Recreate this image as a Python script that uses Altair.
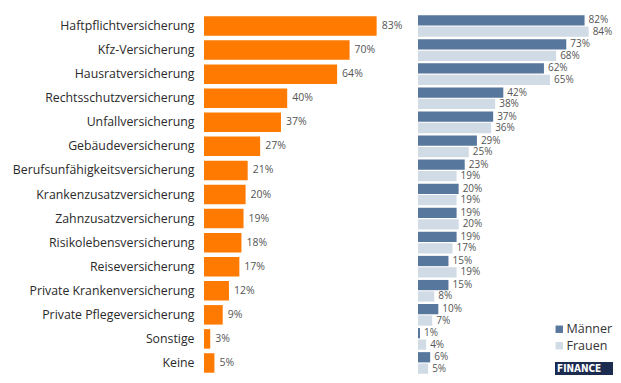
import altair as alt
import pandas as pd

categories = [
    "Haftpflichtversicherung", "Kfz-Versicherung", "Hausratversicherung",
    "Rechtsschutzversicherung", "Unfallversicherung", "Gebäudeversicherung",
    "Berufsunfähigkeitsversicherung", "Krankenzusatzversicherung",
    "Zahnzusatzversicherung", "Risikolebensversicherung", "Reiseversicherung",
    "Private Krankenversicherung", "Private Pflegeversicherung", "Sonstige", "Keine",
]
gesamt = [83, 70, 64, 40, 37, 27, 21, 20, 19, 18, 17, 12, 9, 3, 5]
maenner = [82, 73, 62, 42, 37, 29, 23, 20, 19, 19, 15, 15, 10, 1, 6]
frauen = [84, 68, 65, 38, 36, 25, 19, 19, 20, 17, 19, 8, 7, 4, 5]
groups = ["Männer", "Frauen"]
group_colors = ["#58779c", "#d1dbe5"]
logo = ["FINANCE"]

FONT = "Open Sans"
H = 361

df_total = pd.DataFrame({"Kategorie": categories, "Wert": gesamt})
df_total["Label"] = df_total["Wert"].astype(str) + "%"

rows = []
for c, m, f in zip(categories, maenner, frauen):
    rows.append({"Kategorie": c, "Gruppe": groups[0], "Wert": m})
    rows.append({"Kategorie": c, "Gruppe": groups[1], "Wert": f})
df_g = pd.DataFrame(rows)
df_g["Label"] = df_g["Wert"].astype(str) + "%"

yscale = alt.Scale(paddingInner=0.1, paddingOuter=0.05)

left_base = alt.Chart(df_total).encode(
    y=alt.Y("Kategorie:N", sort=categories, scale=yscale,
            axis=alt.Axis(title=None, ticks=False, domain=False, labelFont=FONT,
                          labelFontSize=12.3, labelColor="#2a2a2a", labelPadding=10,
                          minExtent=196, maxExtent=196, labelLimit=250)),
    x=alt.X("Wert:Q", scale=alt.Scale(domain=[0, 100]), axis=None),
)
left = alt.layer(
    left_base.mark_bar(color="#ff7a00", size=19.5),
    left_base.mark_text(align="left", baseline="middle", dx=5, font=FONT,
                        fontSize=10.5, color="#555").encode(text="Label:N"),
).properties(width=208, height=H)

right_base = alt.Chart(df_g).encode(
    y=alt.Y("Kategorie:N", sort=categories, scale=yscale, axis=None),
    yOffset=alt.YOffset("Gruppe:N", sort=groups, scale=alt.Scale(paddingInner=0.1)),
    x=alt.X("Wert:Q", scale=alt.Scale(domain=[0, 96]), axis=None),
)
bars = right_base.mark_bar().encode(
    color=alt.Color("Gruppe:N", sort=groups,
                    scale=alt.Scale(domain=groups, range=group_colors),
                    legend=alt.Legend(title=None, orient="none", legendX=135, legendY=309,
                                      symbolType="square", symbolSize=55,
                                      symbolStrokeWidth=0, labelFont=FONT,
                                      labelFontSize=12.5, labelColor="#333",
                                      rowPadding=3.5, labelOffset=1))
)
texts = right_base.mark_text(align="left", baseline="middle", dx=4, font=FONT,
                             fontSize=10, color="#555").encode(text="Label:N")

logo_df = pd.DataFrame({"t": logo})
logo_rect = alt.Chart(logo_df).mark_rect(color="#1c2b50").encode(
    x=alt.value(137), x2=alt.value(195), y=alt.value(348), y2=alt.value(361))
logo_text = alt.Chart(logo_df).mark_text(
    align="left", baseline="middle", font="DejaVu Sans Condensed", fontWeight="bold",
    fontSize=10, color="white").encode(x=alt.value(139), y=alt.value(355), text="t:N")

right = alt.layer(bars, texts, logo_rect, logo_text).properties(width=195, height=H)

chart = (
    alt.hconcat(left, right, spacing=6)
    .resolve_scale(color="independent", y="independent", x="independent")
    .resolve_legend(color="independent")
    .properties(padding={"left": 0, "top": 6, "right": 0, "bottom": 0})
    .configure_view(stroke=None)
)

chart.save("out.html", embed_options={"renderer": "svg", "actions": False})
